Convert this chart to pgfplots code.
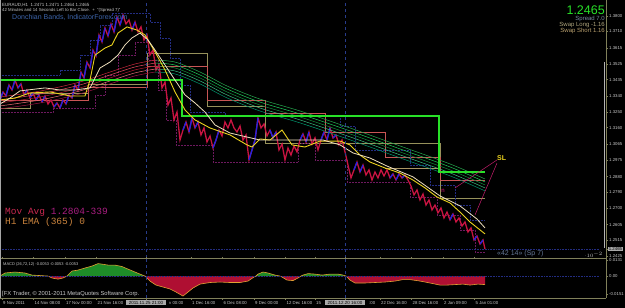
\documentclass[border=0pt]{standalone}
\usepackage{pgfplots}
\pgfplotsset{compat=1.18}
\usepackage{pgfplotstable}
\usepackage{fontspec}
\setmainfont{Liberation Sans}
\newfontfamily\mono{Liberation Mono}

\definecolor{mtolive}{RGB}{128,128,90}
\definecolor{mtgray}{RGB}{200,200,200}
\definecolor{mtbox}{RGB}{170,170,170}
\definecolor{limeg}{RGB}{40,225,40}
\definecolor{vline}{RGB}{40,60,140}
\definecolor{dotnavy}{RGB}{35,45,130}
\definecolor{dotpurple}{RGB}{110,25,95}
\definecolor{boxolive}{RGB}{150,145,90}
\definecolor{boxsalmon}{RGB}{200,85,85}
\definecolor{boxtan}{RGB}{170,150,100}
\definecolor{mayellow}{RGB}{235,210,30}
\definecolor{mawhite}{RGB}{240,225,190}
\definecolor{macdgreen}{RGB}{30,140,40}
\definecolor{macdred}{RGB}{175,15,50}
\definecolor{macdline}{RGB}{225,160,50}
\definecolor{slcol}{RGB}{200,30,110}
\definecolor{donch}{RGB}{60,100,170}
\definecolor{candred}{RGB}{200,20,65}
\definecolor{candblue}{RGB}{35,35,225}
\definecolor{fr1}{RGB}{200,40,60}
\definecolor{fr2}{RGB}{225,75,95}
\definecolor{fr3}{RGB}{175,25,50}
\definecolor{fr4}{RGB}{235,110,120}
\definecolor{fr5}{RGB}{160,20,70}
\definecolor{fg1}{RGB}{40,170,80}
\definecolor{fg2}{RGB}{30,205,90}
\definecolor{fg3}{RGB}{20,140,60}
\definecolor{fg4}{RGB}{60,190,130}
\definecolor{fg5}{RGB}{0,150,110}

% hourly closes (all bars)
\pgfplotstableread{
x y
0 1.3318
3 1.3364
6 1.3341
9 1.3404
12 1.3375
15 1.3432
18 1.3387
21 1.3410
24 1.3347
27 1.3375
30 1.3329
33 1.3358
36 1.3318
39 1.3347
42 1.3307
45 1.3341
48 1.3295
51 1.3318
54 1.3278
57 1.3301
60 1.3272
63 1.3318
66 1.3295
69 1.3347
72 1.3329
75 1.3404
78 1.3375
81 1.3478
84 1.3444
87 1.3535
90 1.3501
93 1.3604
96 1.3570
99 1.3690
102 1.3650
105 1.3730
108 1.3684
111 1.3753
114 1.3707
117 1.3793
120 1.3747
123 1.3804
126 1.3753
129 1.3776
132 1.3718
135 1.3764
138 1.3707
141 1.3736
144 1.3661
147 1.3690
150 1.3575
153 1.3604
156 1.3490
159 1.3518
162 1.3387
165 1.3421
168 1.3289
171 1.3329
174 1.3204
177 1.3249
180 1.3089
183 1.3146
186 1.3192
189 1.3135
192 1.3215
195 1.3158
198 1.3192
201 1.3118
204 1.3158
207 1.3078
210 1.3112
213 1.3043
216 1.3089
219 1.3146
222 1.3112
225 1.3192
228 1.3158
231 1.3204
234 1.3158
237 1.3135
240 1.3169
243 1.3089
246 1.3118
249 1.2975
252 1.3032
255 1.3089
258 1.3215
261 1.3158
264 1.3181
267 1.3112
270 1.3146
273 1.3101
276 1.3135
279 1.3032
282 1.3066
285 1.2975
288 1.3043
291 1.3003
294 1.3055
297 1.3021
300 1.3089
303 1.3124
306 1.3078
309 1.3135
312 1.3066
315 1.3101
318 1.3032
321 1.3089
324 1.3135
327 1.3089
330 1.3158
333 1.3101
336 1.3118
339 1.3061
342 1.3089
345 1.3021
348 1.2946
351 1.2872
354 1.2918
357 1.2963
360 1.2906
363 1.2946
366 1.2889
369 1.2918
372 1.2860
375 1.2906
378 1.2872
381 1.2918
384 1.2883
387 1.2918
390 1.2872
393 1.2895
396 1.2860
399 1.2895
402 1.2872
405 1.2889
408 1.2860
411 1.2826
414 1.2775
417 1.2803
420 1.2746
423 1.2780
426 1.2717
429 1.2746
432 1.2689
435 1.2717
438 1.2672
441 1.2700
444 1.2643
447 1.2677
450 1.2632
453 1.2666
456 1.2620
459 1.2643
462 1.2597
465 1.2620
468 1.2563
471 1.2586
474 1.2517
477 1.2540
480 1.2494
483 1.2517
485 1.2465
}\pricetab

% rising (blue) bars, segments separated by nan
\pgfplotstableread{
x y
0 1.3318
3 1.3364
4 nan
6 1.3341
9 1.3404
10 nan
12 1.3375
15 1.3432
16 nan
18 1.3387
21 1.3410
22 nan
24 1.3347
27 1.3375
28 nan
30 1.3329
33 1.3358
34 nan
36 1.3318
39 1.3347
40 nan
42 1.3307
45 1.3341
46 nan
54 1.3278
57 1.3301
58 nan
60 1.3272
63 1.3318
64 nan
66 1.3295
69 1.3347
70 nan
72 1.3329
75 1.3404
76 nan
78 1.3375
81 1.3478
82 nan
84 1.3444
87 1.3535
88 nan
90 1.3501
93 1.3604
94 nan
96 1.3570
99 1.3690
100 nan
102 1.3650
105 1.3730
106 nan
108 1.3684
111 1.3753
112 nan
114 1.3707
117 1.3793
118 nan
120 1.3747
123 1.3804
124 nan
132 1.3718
135 1.3764
136 nan
183 1.3146
186 1.3192
187 nan
189 1.3135
192 1.3215
193 nan
195 1.3158
198 1.3192
199 nan
213 1.3043
216 1.3089
219 1.3146
220 nan
249 1.2975
252 1.3032
255 1.3089
258 1.3215
259 nan
270 1.3146
273 1.3101
276 1.3135
277 nan
300 1.3089
303 1.3124
304 nan
306 1.3078
309 1.3135
310 nan
321 1.3089
324 1.3135
325 nan
327 1.3089
330 1.3158
331 nan
333 1.3101
336 1.3118
337 nan
354 1.2918
357 1.2963
358 nan
360 1.2906
363 1.2946
364 nan
390 1.2872
393 1.2895
394 nan
396 1.2860
399 1.2895
400 nan
402 1.2872
405 1.2889
406 nan
450 1.2632
453 1.2666
454 nan
474 1.2517
477 1.2540
478 nan
480 1.2494
483 1.2517
}\uptab

\pgfplotstableread{
x a b c d e
0 1.3335 1.3318 1.3301 1.3284 1.3267
40 1.3369 1.3352 1.3335 1.3318 1.3301
80 1.3421 1.3404 1.3387 1.3370 1.3353
110 1.3478 1.3461 1.3444 1.3427 1.3410
135 1.3524 1.3507 1.3490 1.3473 1.3456
155 1.3546 1.3529 1.3512 1.3495 1.3478
175 1.3535 1.3518 1.3501 1.3484 1.3467
200 1.3478 1.3461 1.3444 1.3427 1.3410
227 1.3398 1.3381 1.3364 1.3347 1.3330
260 1.3323 1.3306 1.3289 1.3272 1.3255
300 1.3255 1.3238 1.3221 1.3204 1.3187
350 1.3158 1.3141 1.3124 1.3107 1.3090
400 1.3055 1.3038 1.3021 1.3004 1.2987
450 1.2952 1.2935 1.2918 1.2901 1.2884
485 1.2866 1.2849 1.2832 1.2815 1.2798
}\fantab

\pgfplotstableread{
x v pos neg
0 0 0 0
5 0.0025 0.0025 0
15 0.0033 0.0033 0
25 0.0025 0.0025 0
32 0.0008 0.0008 0
40 0.0004 0.0004 0
48 0 0 0
52 -0.0016 0 -0.0016
58 -0.0025 0 -0.0025
63 -0.0016 0 -0.0016
67 0 0 0
72 0.0041 0.0041 0
78 0.0049 0.0049 0
85 0.0066 0.0066 0
92 0.0082 0.0082 0
98 0.0102 0.0102 0
102 0.0098 0.0098 0
108 0.0090 0.0090 0
115 0.0090 0.0090 0
122 0.0078 0.0078 0
128 0.0057 0.0057 0
135 0.0033 0.0033 0
140 0.0016 0.0016 0
145 0 0 0
150 -0.0041 0 -0.0041
156 -0.0074 0 -0.0074
163 -0.0090 0 -0.0090
170 -0.0106 0 -0.0106
176 -0.0131 0 -0.0131
183 -0.0164 0 -0.0164
188 -0.0131 0 -0.0131
193 -0.0098 0 -0.0098
200 -0.0066 0 -0.0066
210 -0.0053 0 -0.0053
220 -0.0049 0 -0.0049
230 -0.0053 0 -0.0053
240 -0.0053 0 -0.0053
248 -0.0041 0 -0.0041
254 -0.0008 0 -0.0008
256 0 0 0
258 0.0016 0.0016 0
263 0.0033 0.0033 0
268 0.0025 0.0025 0
275 0.0008 0.0008 0
280 0 0 0
282 -0.0008 0 -0.0008
287 -0.0033 0 -0.0033
293 -0.0037 0 -0.0037
298 -0.0016 0 -0.0016
301 0 0 0
303 0.0008 0.0008 0
308 0.0020 0.0020 0
315 0.0016 0.0016 0
322 0.0008 0.0008 0
330 0.0016 0.0016 0
338 0.0016 0.0016 0
343 0.0008 0.0008 0
346 0 0 0
350 -0.0033 0 -0.0033
355 -0.0057 0 -0.0057
365 -0.0057 0 -0.0057
375 -0.0053 0 -0.0053
385 -0.0049 0 -0.0049
395 -0.0041 0 -0.0041
403 -0.0029 0 -0.0029
410 -0.0029 0 -0.0029
420 -0.0041 0 -0.0041
430 -0.0057 0 -0.0057
440 -0.0074 0 -0.0074
447 -0.0074 0 -0.0074
455 -0.0070 0 -0.0070
463 -0.0066 0 -0.0066
470 -0.0074 0 -0.0074
478 -0.0066 0 -0.0066
485 -0.0070 0 -0.0070
}\macdtab

\begin{document}
\begin{tikzpicture}[x=1pt,y=1pt]
\useasboundingbox (0,0) rectangle (625,308);
\fill[black] (0,0) rectangle (625,308);

% ---------------- main price pane ----------------
\begin{axis}[
  at={(0pt,50pt)}, anchor=south west,
  scale only axis, width=606pt, height=258pt,
  xmin=0, xmax=606, ymin=1.2414, ymax=1.3890,
  axis line style={draw=none},
  xtick=\empty,
  ytick={1.2425,1.2515,1.2605,1.2700,1.2790,1.2880,1.2975,1.3065,1.3160,1.3250,1.3340,1.3435,1.3525,1.3615,1.3710,1.3800},
  yticklabel pos=right,
  tick align=outside, major tick length=2pt,
  ytick style={mtolive, line width=0.4pt},
  yticklabel style={font=\fontsize{4.3}{5}\selectfont, text=mtgray, inner sep=1pt,
    /pgf/number format/fixed, /pgf/number format/fixed zerofill,
    /pgf/number format/precision=4, /pgf/number format/assume math mode=true},
  extra y ticks={1.2465},
  extra y tick style={yticklabel style={fill=mtbox, text=black, inner sep=0.7pt}},
  unbounded coords=jump,
]
% box lines
\addplot[boxolive, line width=0.6pt] coordinates {(0,1.3272) (30,1.3272) (30,1.3358) (88,1.3358) (88,1.3410) (147,1.3410) (147,1.3587) (207,1.3587) (207,1.3284) (265,1.3284) (265,1.3072) (440,1.3072) (440,1.2757) (485,1.2757)};
\addplot[boxsalmon, line width=0.6pt] coordinates {(0,1.3318) (88,1.3318) (88,1.3392) (147,1.3392) (147,1.3512) (207,1.3512) (207,1.3318) (265,1.3318) (265,1.3244) (325,1.3244) (325,1.3135) (385,1.3135) (385,1.2992) (440,1.2992) (440,1.2860) (485,1.2860)};
\addplot[boxtan, line width=0.6pt] coordinates {(385,1.2929) (440,1.2929)};
% dotted channels
\addplot[dotnavy, densely dotted, line width=0.5pt] coordinates {(0,1.3461) (60,1.3461) (60,1.3490) (80,1.3490) (80,1.3575) (90,1.3575) (90,1.3661) (100,1.3661) (100,1.3747) (112,1.3747) (112,1.3816) (150,1.3816) (150,1.3764) (160,1.3764) (160,1.3673) (170,1.3673) (170,1.3558) (180,1.3558) (180,1.3404) (190,1.3404) (190,1.3249) (225,1.3249) (225,1.3226) (340,1.3226) (340,1.3169) (355,1.3169) (355,1.3032) (410,1.3032) (410,1.2946) (430,1.2946) (430,1.2832) (455,1.2832) (455,1.2717) (470,1.2717) (470,1.2632) (485,1.2632)};
\addplot[dotpurple, densely dotted, line width=0.5pt] coordinates {(0,1.3249) (53,1.3249) (53,1.3272) (95,1.3272) (95,1.3347) (105,1.3347) (105,1.3461) (118,1.3461) (118,1.3575) (135,1.3575) (135,1.3650) (148,1.3650) (148,1.3547) (158,1.3547) (158,1.3375) (166,1.3375) (166,1.3204) (176,1.3204) (176,1.3061) (213,1.3061) (213,1.2963) (298,1.2963) (298,1.3072) (315,1.3072) (315,1.2975) (347,1.2975) (347,1.2849) (410,1.2849) (410,1.2763) (437,1.2763) (437,1.2660) (460,1.2660) (460,1.2574) (475,1.2574) (475,1.2449) (485,1.2449)};
% price bars: falling (red) path, rising (blue) bars on top
\addplot[candred, line width=1.3pt] table[x=x, y=y] \pricetab;
\addplot[candblue, line width=1.3pt] table[x=x, y=y] \uptab;
% MA fan
\addplot[fr1, line width=0.5pt, smooth, restrict x to domain=0:155] table[x=x, y=a] \fantab;
\addplot[fr2, line width=0.5pt, smooth, restrict x to domain=0:155] table[x=x, y=b] \fantab;
\addplot[fr3, line width=0.5pt, smooth, restrict x to domain=0:155] table[x=x, y=c] \fantab;
\addplot[fr4, line width=0.5pt, smooth, restrict x to domain=0:155] table[x=x, y=d] \fantab;
\addplot[fr5, line width=0.5pt, smooth, restrict x to domain=0:155] table[x=x, y=e] \fantab;
\addplot[fg1, line width=0.5pt, smooth, restrict x to domain=155:485] table[x=x, y=a] \fantab;
\addplot[fg2, line width=0.5pt, smooth, restrict x to domain=155:485] table[x=x, y=b] \fantab;
\addplot[fg3, line width=0.5pt, smooth, restrict x to domain=155:485] table[x=x, y=c] \fantab;
\addplot[fg4, line width=0.5pt, smooth, restrict x to domain=155:485] table[x=x, y=d] \fantab;
\addplot[fg5, line width=0.5pt, smooth, restrict x to domain=155:485] table[x=x, y=e] \fantab;
% green step
\addplot[limeg, line width=1.4pt] coordinates {(0,1.3432) (182,1.3432) (182,1.3226) (439,1.3226) (439,1.2906) (485,1.2906)};
% yellow and white lines
\addplot[mayellow, line width=0.9pt] coordinates {(0,1.3318) (15,1.3329) (30,1.3358) (50,1.3364) (70,1.3341) (85,1.3341) (90,1.3432) (95,1.3575) (105,1.3615) (112,1.3633) (118,1.3701) (127,1.3736) (137,1.3718) (145,1.3690) (155,1.3593) (165,1.3490) (175,1.3364) (185,1.3261) (195,1.3204) (210,1.3158) (230,1.3118) (247,1.3061) (252,1.3049) (260,1.3095) (270,1.3089) (282,1.3146) (292,1.3061) (305,1.3049) (320,1.3083) (340,1.3083) (350,1.3061) (360,1.3003) (370,1.2963) (385,1.2929) (400,1.2900) (413,1.2860) (425,1.2815) (437,1.2763) (450,1.2729) (460,1.2677) (470,1.2620) (485,1.2552)};
\addplot[mawhite, line width=0.8pt] coordinates {(0,1.3295) (10,1.3329) (20,1.3370) (45,1.3387) (60,1.3375) (75,1.3375) (90,1.3387) (100,1.3501) (110,1.3535) (118,1.3575) (125,1.3633) (132,1.3673) (140,1.3701) (148,1.3661) (155,1.3604) (165,1.3518) (175,1.3432) (185,1.3347) (195,1.3301) (205,1.3249) (215,1.3175) (230,1.3129) (247,1.3106) (260,1.3089) (290,1.3089) (323,1.3089) (340,1.3061) (353,1.3015) (370,1.2986) (387,1.2940) (413,1.2878) (440,1.2769) (460,1.2712) (477,1.2637) (485,1.2586)};
% SL lines
\addplot[slcol, line width=0.5pt] coordinates {(497,1.2975) (455,1.2815)};
\addplot[slcol, line width=0.5pt] coordinates {(497,1.2957) (475,1.2660)};
% vertical lines and bid line
\addplot[vline, dashed, line width=0.6pt] coordinates {(146,1.2414) (146,1.3890)};
\addplot[vline, dashed, line width=0.6pt] coordinates {(345,1.2414) (345,1.3890)};
\addplot[dotnavy, densely dotted, line width=0.6pt] coordinates {(0,1.2465) (600,1.2465)};
\end{axis}

% ---------------- MACD pane ----------------
\begin{axis}[
  at={(0pt,10pt)}, anchor=south west,
  scale only axis, width=606pt, height=39pt,
  xmin=0, xmax=606, ymin=-0.0180, ymax=0.0140,
  axis line style={draw=none},
  ytick={-0.0151,0,0.0131}, yticklabels={-0.0151,0.00,0.0131},
  yticklabel pos=right,
  tick align=outside, major tick length=2pt,
  tick style={mtolive, line width=0.4pt},
  yticklabel style={font=\fontsize{4.3}{5}\selectfont, text=mtgray, inner sep=1pt},
  xtick={2,33.5,65,96.5,191,222.5,254,285.5,315,380,411.5,443,474.5},
  xticklabels={9 Nov 2011,14 Nov 08:00,17 Nov 00:00,21 Nov 16:00,1 Dec 16:00,6 Dec 08:00,9 Dec 00:00,12 Dec 16:00,15,22 Dec 16:00,28 Dec 16:00,2 Jan 09:00,5 Jan 01:00},
  xticklabel style={anchor=north west, font=\fontsize{4.3}{5}\selectfont, text=mtgray, inner sep=1pt},
  extra x ticks={146,345},
  extra x tick labels={2011.11.25 21:00,2011.12.20 16:00},
  extra x tick style={xticklabel style={anchor=north, fill=mtbox, text=black, inner xsep=3pt, inner ysep=1pt, font=\fontsize{4.5}{5}\selectfont}},
]
\addplot[draw=none, fill=macdgreen] table[x=x, y=pos] \macdtab \closedcycle;
\addplot[draw=none, fill=macdred] table[x=x, y=neg] \macdtab \closedcycle;
\addplot[macdline, line width=0.6pt] table[x=x, y=v] \macdtab;
\addplot[dotnavy, densely dotted, line width=0.6pt] coordinates {(0,0) (600,0)};
\addplot[vline, dashed, line width=0.6pt] coordinates {(146,-0.0180) (146,0.0140)};
\addplot[vline, dashed, line width=0.6pt] coordinates {(345,-0.0180) (345,0.0140)};
\end{axis}

% ---------------- frame ----------------
\draw[mtolive, line width=1.4pt] (0,49.5) -- (606,49.5);
\draw[mtolive, line width=0.6pt] (606,10) -- (606,308);
\draw[mtolive, line width=0.6pt] (0,10) -- (606,10);
\draw[gray!70, line width=0.5pt] (0.5,10) -- (0.5,308);
\draw[gray!60, line width=1.8pt] (604.5,60) -- (604.5,246);

% ---------------- texts ----------------
\node[anchor=west, inner sep=0, text=mtgray, font=\fontsize{4.5}{5}\selectfont] at (2,303) {EURAUD,H1\ \ 1.2471 1.2471 1.2464 1.2465};
\node[anchor=west, inner sep=0, text=mtgray, font=\fontsize{4.3}{5}\selectfont] at (2,298) {42 Minutes and 14 Seconds Left to Bar Close.\ \ +\ \ "(Spread 7)"};
\node[anchor=west, inner sep=0, text=donch, font=\fontsize{7}{8}\selectfont] at (12,291) {Donchian Bands, IndicatorForex.com};
\node[anchor=east, inner sep=0, text=limeg, font=\fontsize{12.5}{13}\selectfont] at (605,298) {1.2465};
\node[anchor=east, inner sep=0, text={rgb,255:red,120;green,135;blue,160}, font=\fontsize{6}{7}\selectfont] at (605,289) {Spread 7.0};
\node[anchor=east, inner sep=0, text={rgb,255:red,175;green,165;blue,125}, font=\fontsize{6}{7}\selectfont] at (605,283) {Swap Long -1.16};
\node[anchor=east, inner sep=0, text={rgb,255:red,185;green,160;blue,110}, font=\fontsize{6}{7}\selectfont] at (605,277.5) {Swap Short 1.16};
\node[anchor=west, inner sep=0, font=\mono\fontsize{9.5}{10}\selectfont] at (5,95.3) {\textcolor[RGB]{200,40,80}{Mov Avg }\textcolor[RGB]{170,30,130}{1.2804-339}};
\node[anchor=west, inner sep=0, text={rgb,255:red,200;green,130;blue,60}, font=\mono\fontsize{9.5}{10}\selectfont] at (5,85.5) {H1 EMA (365) 0};
\node[anchor=west, inner sep=0, text=mayellow, font=\bfseries\fontsize{7}{8}\selectfont] at (497,150) {SL};
\node[inner sep=0, text=magenta!80!purple, font=\fontsize{6}{7}\selectfont] at (443,117) {n};
\node[anchor=west, inner sep=0, text={rgb,255:red,100;green,120;blue,150}, font=\fontsize{7}{8}\selectfont] at (497,54) {«42 14» (Sp 7)};
\node[anchor=west, inner sep=0, text=mtgray, font=\fontsize{4}{5}\selectfont] at (3,44) {MACD (26,72,12) -0.0053 -0.0053 -0.0053};
\node[anchor=west, inner sep=0, text=mtgray, font=\fontsize{5.8}{6.5}\selectfont] at (2,14) {[FX Trader, © 2001-2011 MetaQuotes Software Corp.};
\node[anchor=north west, inner sep=1pt, text=mtgray, font=\fontsize{4.3}{5}\selectfont] at (168,8) {v 00:00};
\node[anchor=north west, inner sep=1pt, text=mtgray, font=\fontsize{4.3}{5}\selectfont] at (368,8) {:00};
\end{tikzpicture}
\end{document}
